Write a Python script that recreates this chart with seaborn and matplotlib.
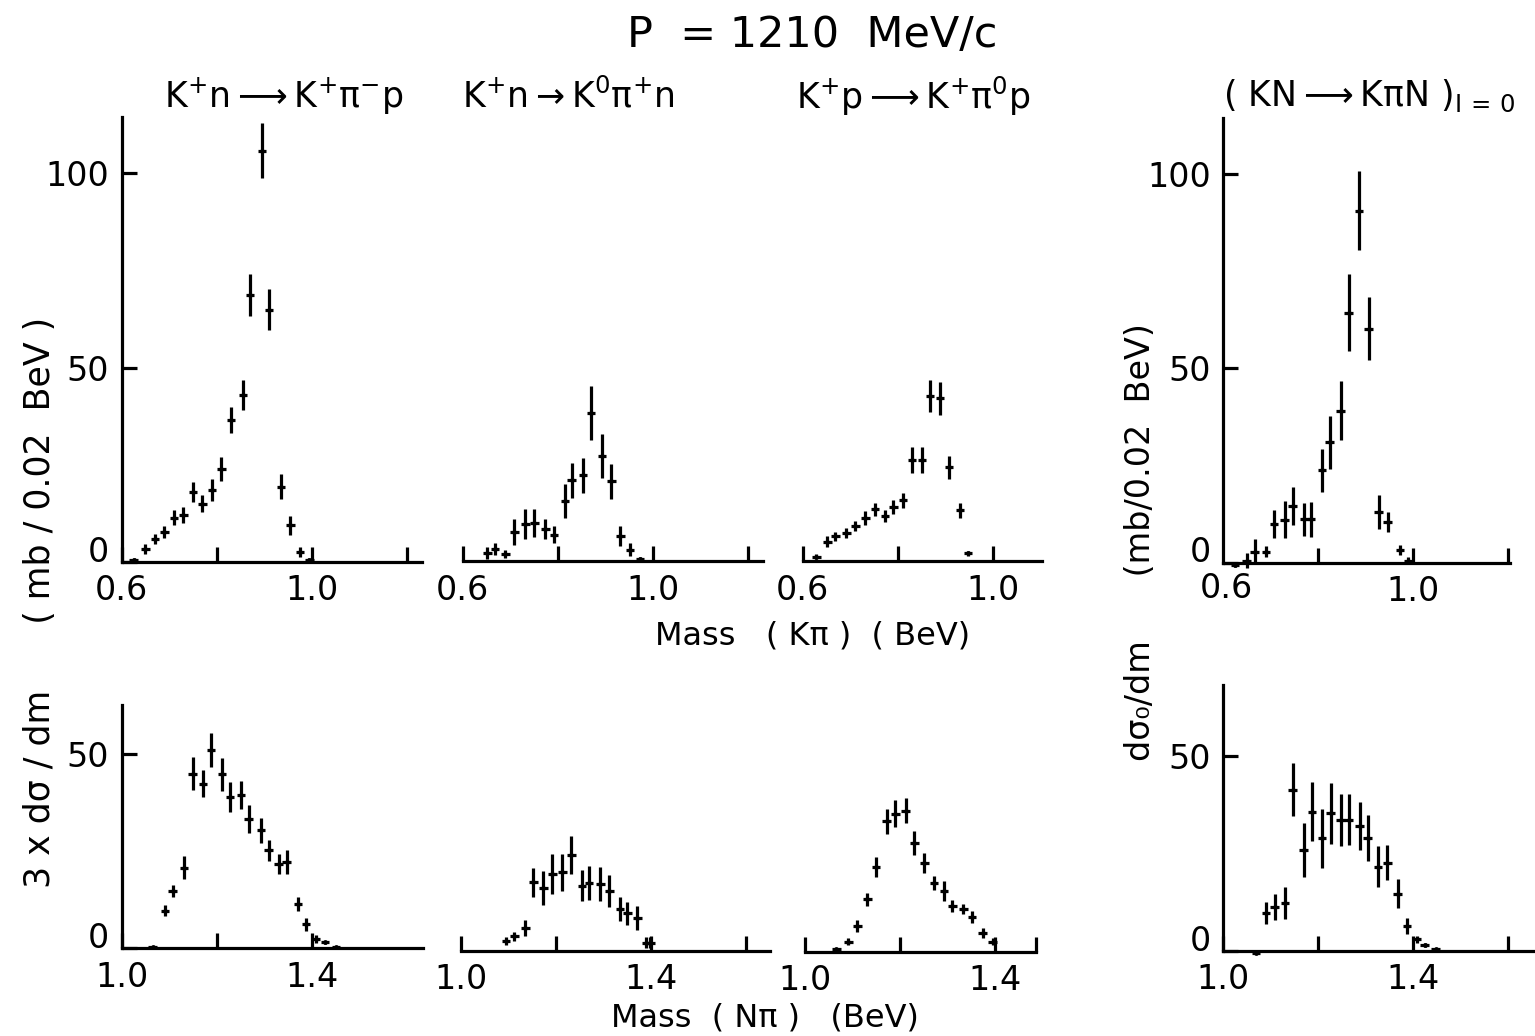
import matplotlib
matplotlib.use("Agg")
import matplotlib.pyplot as plt
import seaborn as sns

# K pi mass panels (top row): bin centre, value, error
ka_x = [0.625, 0.65, 0.67, 0.69, 0.71, 0.73, 0.75, 0.77, 0.79, 0.81, 0.83, 0.855, 0.87, 0.895, 0.91, 0.935, 0.955, 0.975, 0.995]
ka_y = [0.5, 3.4, 6.0, 7.7, 11.4, 12.0, 18.0, 15.0, 18.6, 23.8, 36.5, 43.0, 68.6, 105.7, 64.9, 19.3, 9.4, 2.6, 0.5]
ka_e = [0.4, 1.3, 1.3, 1.6, 1.9, 2.1, 2.6, 2.2, 2.8, 3.1, 3.3, 3.9, 5.4, 7.1, 5.2, 3.2, 2.4, 1.3, 0.4]

kb_x = [0.652, 0.668, 0.69, 0.709, 0.732, 0.751, 0.774, 0.792, 0.815, 0.829, 0.853, 0.87, 0.893, 0.913, 0.932, 0.952, 0.973]
kb_y = [2.1, 3.1, 1.8, 7.4, 9.5, 9.7, 8.2, 6.8, 15.4, 20.7, 22.0, 38.0, 27.0, 20.5, 6.4, 2.9, 0.5]
kb_e = [1.5, 1.5, 1.0, 3.3, 3.8, 3.6, 2.6, 2.1, 4.3, 4.4, 4.6, 6.9, 5.7, 4.5, 2.6, 1.6, 0.5]

kc_x = [0.629, 0.652, 0.669, 0.692, 0.711, 0.732, 0.752, 0.773, 0.791, 0.811, 0.83, 0.851, 0.868, 0.889, 0.908, 0.931, 0.948]
kc_y = [1.1, 5.0, 6.3, 7.1, 9.0, 11.0, 13.3, 11.5, 13.9, 15.6, 25.9, 25.9, 42.4, 41.8, 24.1, 13.0, 2.0]
kc_e = [0.6, 1.3, 1.1, 1.3, 1.4, 1.8, 1.7, 1.6, 1.8, 1.9, 3.3, 3.3, 4.2, 4.2, 2.9, 1.9, 0.6]

kd_x = [0.625, 0.649, 0.666, 0.69, 0.707, 0.729, 0.746, 0.771, 0.785, 0.808, 0.824, 0.847, 0.864, 0.886, 0.906, 0.927, 0.946, 0.972, 0.99]
kd_y = [-0.6, 0.5, 2.8, 2.8, 9.9, 11.0, 14.6, 11.1, 11.1, 23.7, 30.9, 39.0, 64.2, 90.5, 60.1, 13.0, 10.5, 3.3, 0.5]
kd_e = [0.5, 1.9, 3.2, 1.5, 3.6, 4.7, 4.9, 4.2, 4.5, 5.6, 6.9, 7.6, 9.9, 10.1, 8.1, 4.3, 2.6, 1.3, 0.8]

# N pi mass panels (bottom row)
na_x = [1.065, 1.091, 1.107, 1.131, 1.149, 1.171, 1.188, 1.211, 1.228, 1.251, 1.267, 1.293, 1.309, 1.33, 1.347, 1.371, 1.388, 1.409, 1.428, 1.451]
na_y = [0.4, 9.7, 14.8, 20.7, 44.9, 42.3, 50.9, 44.7, 38.9, 39.3, 33.3, 30.3, 25.2, 21.6, 22.2, 11.5, 6.2, 2.3, 1.5, 0.3]
na_e = [0.3, 1.5, 1.5, 3.0, 4.3, 3.4, 4.3, 4.3, 3.8, 3.6, 3.6, 3.3, 2.7, 2.5, 3.0, 1.8, 1.7, 1.0, 0.5, 0.3]

nb_x = [1.095, 1.113, 1.136, 1.153, 1.174, 1.193, 1.214, 1.233, 1.255, 1.27, 1.294, 1.313, 1.335, 1.351, 1.372, 1.39, 1.399]
nb_y = [2.4, 3.7, 5.8, 17.5, 16.1, 19.7, 20.1, 24.6, 16.7, 17.3, 17.1, 15.2, 10.7, 9.6, 8.4, 2.1, 2.1]
nb_e = [1.0, 1.2, 2.0, 3.7, 4.3, 5.1, 4.7, 4.9, 3.9, 4.4, 4.4, 4.1, 3.2, 3.0, 3.1, 1.3, 1.3]

nc_x = [1.066, 1.091, 1.11, 1.131, 1.149, 1.172, 1.19, 1.212, 1.23, 1.251, 1.271, 1.292, 1.31, 1.333, 1.351, 1.374, 1.395]
nc_y = [0.6, 2.6, 6.6, 13.4, 21.7, 33.5, 35.4, 36.2, 27.9, 22.8, 17.5, 15.6, 11.7, 10.9, 8.9, 4.9, 2.6]
nc_e = [0.4, 1.0, 1.5, 1.7, 2.6, 3.2, 3.5, 3.3, 3.0, 2.6, 1.8, 2.6, 1.6, 1.3, 1.5, 1.3, 1.0]

nd_x = [1.069, 1.09, 1.108, 1.13, 1.146, 1.169, 1.187, 1.208, 1.226, 1.247, 1.264, 1.287, 1.304, 1.326, 1.345, 1.367, 1.387, 1.407, 1.424, 1.447]
nd_y = [-0.5, 9.6, 11.3, 12.3, 41.4, 25.9, 35.7, 28.9, 35.3, 33.7, 33.7, 32.0, 28.9, 21.6, 22.6, 14.7, 6.3, 2.9, 1.5, 0.5]
nd_e = [0.4, 2.8, 3.3, 4.2, 6.9, 7.0, 7.6, 7.6, 7.9, 6.7, 6.5, 6.1, 5.9, 5.2, 4.5, 3.8, 2.1, 1.0, 0.5, 0.3]

titles = [r"$K^{+}n \longrightarrow K^{+}\pi^{-}p$", r"$K^{+}n \rightarrow K^{0}\pi^{+}n$",
          r"$K^{+}p \longrightarrow K^{+}\pi^{0}p$", r"$(\ KN \longrightarrow K\pi N\ )_{I\,=\,0}$"]

sns.set_style("ticks")
plt.rcParams["font.family"] = ["DejaVu Sans"]
plt.rcParams["mathtext.default"] = "regular"
for k in ["text.color", "axes.labelcolor", "xtick.color", "ytick.color", "axes.edgecolor"]:
    plt.rcParams[k] = "black"

W, H = 1535, 1036
fig = plt.figure(figsize=(W / 100, H / 100), dpi=100)


def box(x0, x1, ybot, ytop):
    return [x0 / W, 1 - ybot / H, (x1 - x0) / W, (ybot - ytop) / H]


def panel(rect, xs, ys, es, xlim, ylim, xticks, xlabels, yticks=None):
    ax = fig.add_axes(rect)
    ax.errorbar(xs, ys, yerr=es, xerr=0.009, fmt="none", ecolor="black",
                elinewidth=2.3, capsize=0, clip_on=False)
    sns.scatterplot(x=xs, y=ys, ax=ax, color="black", s=12, linewidth=0, clip_on=False)
    ax.set_xlim(*xlim)
    ax.set_ylim(*ylim)
    ax.set_facecolor("none")
    for s in ["top", "right"]:
        ax.spines[s].set_visible(False)
    for s in ["left", "bottom"]:
        ax.spines[s].set_linewidth(2.3)
    ax.set_xticks(xticks, xlabels)
    if yticks is None:
        ax.spines["left"].set_visible(False)
        ax.set_yticks([])
    else:
        ax.set_yticks(yticks, [str(t) for t in yticks])
    ax.tick_params(direction="in", length=11, width=2.3, labelsize=24, pad=9)
    if yticks is not None:
        # the "0" sits a little above the axis, clear of the x labels
        ax.yaxis.get_major_ticks()[0].label1.set_verticalalignment("baseline")
    return ax


# top row
panel(box(121.7, 422, 562, 117), ka_x, ka_y, ka_e, (0.6, 1.232), (0, 114.4),
      [0.6, 0.8, 1.0, 1.2], ["0.6", "", "1.0", ""], [0, 50, 100])
panel(box(462.7, 763, 561, 116), kb_x, kb_y, kb_e, (0.6, 1.232), (0, 114.4),
      [0.6, 0.8, 1.0, 1.2], ["0.6", "", "1.0", ""])
panel(box(802.7, 1042, 561, 116), kc_x, kc_y, kc_e, (0.6, 1.104), (0, 114.4),
      [0.6, 0.8, 1.0], ["0.6", "", "1.0"])
panel(box(1223.3, 1510, 562.5, 118), kd_x, kd_y, kd_e, (0.6, 1.204), (0, 114.3),
      [0.8, 1.0, 1.2], ["", "1.0", ""], [0, 50, 100])
fig.text(1226 / W, 1 - 572 / H, "0.6", fontsize=24, ha="center", va="top")

# bottom row
panel(box(121.7, 423, 948.3, 705), na_x, na_y, na_e, (1.0, 1.634), (0, 62.5),
      [1.0, 1.2, 1.4], ["1.0", "", "1.4"], [0, 50])
panel(box(460.7, 770, 950.7, 707), nb_x, nb_y, nb_e, (1.0, 1.651), (0, 62.5),
      [1.0, 1.2, 1.4, 1.6], ["1.0", "", "1.4", ""])
panel(box(805, 1036, 951.7, 708), nc_x, nc_y, nc_e, (1.0, 1.486), (0, 62.5),
      [1.0, 1.2, 1.4, 1.486], ["1.0", "", "1.4", ""])
panel(box(1223.3, 1535, 950.7, 685), nd_x, nd_y, nd_e, (1.0, 1.656), (0, 68.3),
      [1.0, 1.2, 1.4, 1.6], ["1.0", "", "1.4", ""], [0, 50])

# text
fig.text(812 / W, 1 - 35 / H, "P  = 1210  MeV/c", fontsize=31, ha="center", va="center")
for t, cx in zip(titles, [284, 568, 913, 1369]):
    fig.text(cx / W, 1 - 96 / H, t, fontsize=25, ha="center", va="center")
fig.text(813 / W, 1 - 636 / H, "Mass   ( K\u03c0 )  ( BeV)", fontsize=23, ha="center", va="center")
fig.text(765 / W, 1 - 1018 / H, "Mass  ( N\u03c0 )   (BeV)", fontsize=23, ha="center", va="center")
fig.text(40 / W, 1 - 602 / H, "3 x d\u03c3 / dm      ( mb / 0.02  BeV )", fontsize=25,
         rotation=90, ha="center", va="center")
fig.text(1140 / W, 1 - 542 / H, "d\u03c3\u2080/dm      (mb/0.02  BeV)", fontsize=24,
         rotation=90, ha="center", va="center")

plt.savefig("out.png", dpi=100)
